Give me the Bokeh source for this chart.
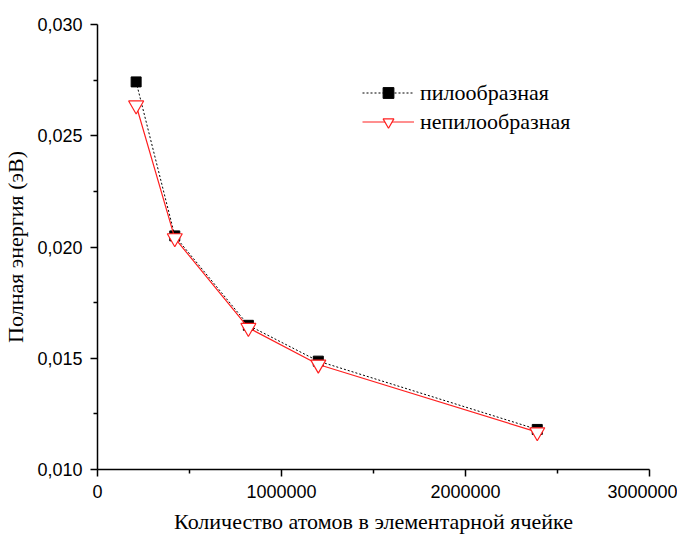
from bokeh.plotting import figure
from bokeh.models import FixedTicker, CustomJSTickFormatter, Legend, LegendItem, Range1d
from bokeh.embed import file_html
from bokeh.resources import INLINE

# Data
atoms = [210000, 420000, 820000, 1200000, 2390000]
saw = [0.02742, 0.02050, 0.01648, 0.01487, 0.01180]
nonsaw = [0.02637, 0.02040, 0.01637, 0.01472, 0.01168]

x_ticks = [0, 1000000, 2000000, 3000000]
x_minor = [500000, 1500000, 2500000]
y_ticks = [0.010, 0.015, 0.020, 0.025, 0.030]
y_minor = [0.0125, 0.0175, 0.0225, 0.0275]

label_saw = "пилообразная"
label_nonsaw = "непилообразная"
x_title = "Количество атомов в элементарной ячейке"
y_title = "Полная энергия (эВ)"

p = figure(frame_width=552, frame_height=445, output_backend="svg", toolbar_location=None,
           x_range=Range1d(0, 3000000), y_range=Range1d(0.010, 0.030),
           min_border_left=97, min_border_top=24, min_border_right=28, min_border_bottom=0)
p.outline_line_color = None
p.xgrid.visible = False
p.ygrid.visible = False
p.background_fill_color = "white"

for ax in (p.xaxis[0], p.yaxis[0]):
    ax.axis_line_width = 1.5
    ax.axis_line_color = "black"
    ax.major_tick_line_width = 1.5
    ax.minor_tick_line_width = 1.5
    ax.major_tick_out = 7
    ax.major_tick_in = 0
    ax.minor_tick_out = 4
    ax.minor_tick_in = 0
    ax.major_label_text_font = "Liberation Sans"
    ax.major_label_text_font_size = "18px"
    ax.major_label_text_color = "black"
    ax.axis_label_text_font = "Liberation Serif"
    ax.axis_label_text_font_size = "22px"
    ax.axis_label_text_font_style = "normal"
    ax.axis_label_text_color = "black"
    ax.major_label_standoff = 8

p.xaxis[0].ticker = FixedTicker(ticks=x_ticks, minor_ticks=x_minor)
p.yaxis[0].ticker = FixedTicker(ticks=y_ticks, minor_ticks=y_minor)
p.xaxis[0].formatter = CustomJSTickFormatter(code="return tick.toFixed(0);")
p.yaxis[0].formatter = CustomJSTickFormatter(code="return tick.toFixed(3).replace('.', ',');")
p.xaxis[0].axis_label = x_title
p.yaxis[0].axis_label = y_title
p.xaxis[0].axis_label_standoff = 8
p.yaxis[0].axis_label_standoff = 6

l1 = p.line(atoms, saw, line_color="black", line_width=1, line_dash="2 2")
m1 = p.scatter(atoms, saw, marker="square", size=10, fill_color="black", line_color="black")
l2 = p.line(atoms, nonsaw, line_color="#ff2020", line_width=1.2)
m2 = p.scatter(atoms, nonsaw, marker="inverted_triangle", size=15, fill_color="white",
               line_color="#ff2020", line_width=1.2)

legend = Legend(items=[LegendItem(label=label_saw, renderers=[l1, m1]),
                       LegendItem(label=label_nonsaw, renderers=[l2, m2])],
                location=(265, 334), border_line_color=None, background_fill_alpha=0,
                padding=0, margin=0, spacing=2, glyph_width=52, glyph_height=27,
                label_height=20, label_standoff=6,
                label_text_font="Liberation Serif", label_text_font_size="22px",
                label_text_color="black")
p.add_layout(legend)

open("out.html", "w").write(file_html(p, INLINE))
